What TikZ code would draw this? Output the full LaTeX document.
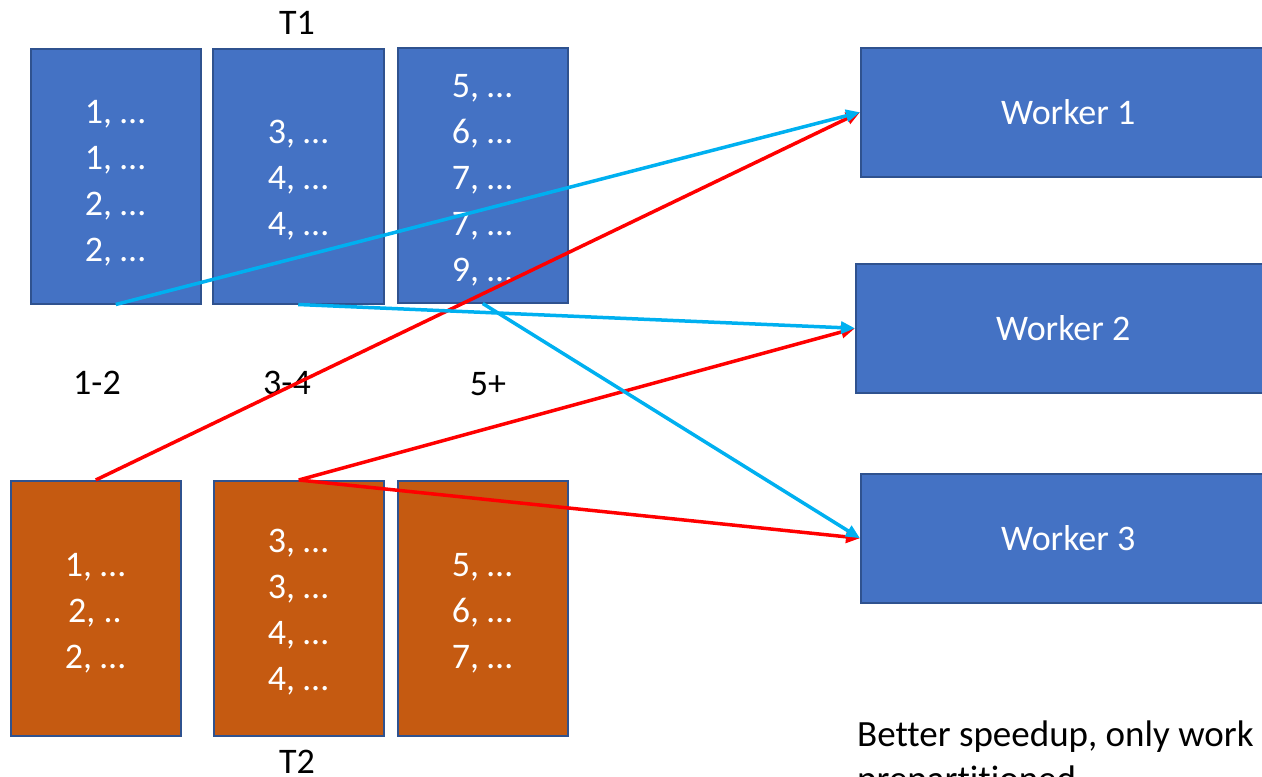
\documentclass[tikz,border=0pt]{standalone}
\usepackage{fontspec}
\setmainfont{Carlito}[Ligatures=NoCommon]
\usetikzlibrary{arrows.meta}
\definecolor{cellblue}{HTML}{4472C4}
\definecolor{cellorange}{HTML}{C55A11}
\definecolor{celledge}{HTML}{2F528F}
\definecolor{flowcyan}{HTML}{00B0F0}
\definecolor{flowred}{HTML}{FF0000}
\begin{document}
\begin{tikzpicture}[x=1pt,y=-1pt,
  cell/.style={draw=celledge, line width=1.5pt, inner sep=0pt, anchor=north west,
    minimum width=170pt, minimum height=255pt},
  t1cell/.style={cell, fill=cellblue},
  t2cell/.style={cell, fill=cellorange},
  worker/.style={draw=celledge, line width=1.5pt, fill=cellblue, anchor=north west,
    minimum width=415pt, minimum height=129pt, inner sep=0pt,
    text=white, font=\fontsize{36}{44}\selectfont},
  celltext/.style={text=white, align=center, inner sep=0pt,
    font=\fontsize{36}{46}\selectfont},
  lbl/.style={text=black, inner sep=0pt, font=\fontsize{36}{44}\selectfont},
  note/.style={text=black, inner sep=0pt, anchor=base west, font=\fontsize{37}{45}\selectfont},
  flow/.style={line width=3.5pt, -{Triangle[length=14pt,width=12pt]}},
  redflow/.style={flow, draw=flowred, fill=flowred},
  blueflow/.style={flow, draw=flowcyan, fill=flowcyan}]

\useasboundingbox (0,0) rectangle (1262,777);
\clip (0,0) rectangle (1262,777);

% table T1 partitions
\node[t1cell] (t1a) at (30,48) {};
\node[t1cell, minimum width=171pt] (t1b) at (212,48) {};
\node[t1cell] (t1c) at (397,47) {};
\node[celltext] (t1atext) at (115,183) {1, …\\1, …\\2, …\\2, …};
\node[celltext] (t1btext) at (298,180) {3, …\\4, …\\4, …};
\node[celltext] (t1ctext) at (482,180) {5, …\\6, …\\7, …\\7, …\\9, …};
\node[lbl] (t1lbl) at (297,23) {T1};

% key ranges
\node[lbl] (r12) at (97,383) {1-2};
\node[lbl] (r34) at (287,383) {3-4};
\node[lbl] (r5) at (488,384) {5+};

% table T2 partitions
\node[t2cell] (t2a) at (10,480) {};
\node[t2cell] (t2b) at (213,480) {};
\node[t2cell] (t2c) at (397,480) {};
\node[celltext] (t2atext) at (95,613) {1, …\\2, ..\\2, …};
\node[celltext] (t2btext) at (298,612) {3, …\\3, …\\4, …\\4, …};
\node[celltext] (t2ctext) at (482,613) {5, …\\6, …\\7, …};
\node[lbl] (t2lbl) at (297,762) {T2};

% workers
\node[worker] (w1) at (860,47) {Worker 1};
\node[worker] (w2) at (855,263) {Worker 2};
\node[worker] (w3) at (860,473) {Worker 3};

% shuffle flows
\draw[redflow] (t2a.north) -- (w1.west);
\draw[redflow] (t2b.north) -- (w2.west);
\draw[redflow] (t2b.north) -- (w3.west);
\draw[blueflow] (t1a.south) -- (w1.west);
\draw[blueflow] (t1b.south) -- (w2.west);
\draw[blueflow] (t1c.south) -- (w3.west);

% remark
\node[note] (rem1) at (857,746) {Better speedup, only work};
\node[note] (rem2) at (857,791) {prepartitioned};
\end{tikzpicture}
\end{document}
